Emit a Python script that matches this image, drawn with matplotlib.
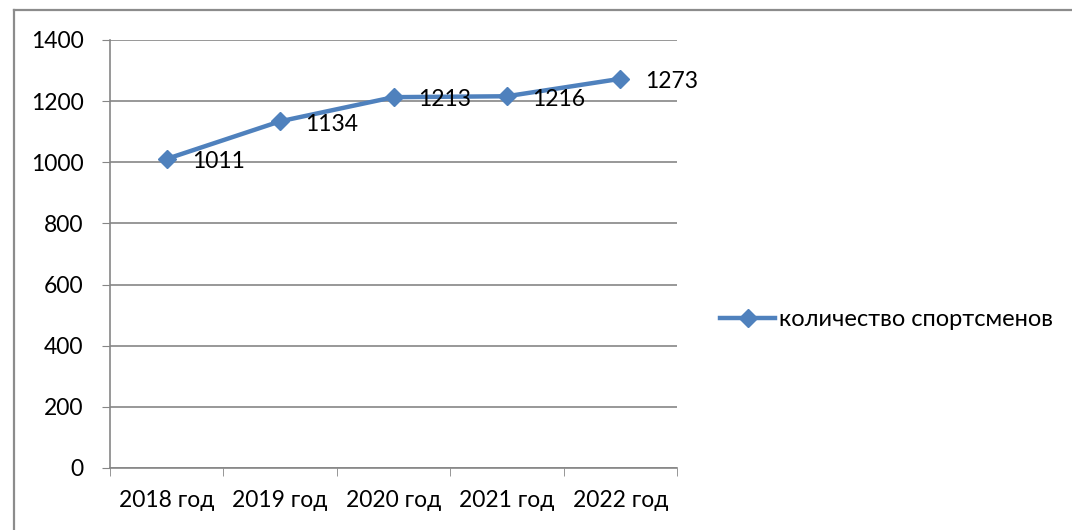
import matplotlib
matplotlib.use('Agg')
from matplotlib import pyplot as plt
from matplotlib.lines import Line2D

# Chart data
years = ['2018 год', '2019 год', '2020 год', '2021 год', '2022 год']
athletes = [1011, 1134, 1213, 1216, 1273]
series_name = 'количество спортсменов'
y_ticks = [0, 200, 400, 600, 800, 1000, 1200, 1400]

plt.rcParams['font.family'] = ['Lato', 'DejaVu Sans']
FS = 16.5

W, H = 1072, 530
fig = plt.figure(figsize=(W / 100, H / 100), dpi=100)
fig.patch.set_facecolor('white')

# Outer chart border (left and top visible)
fig.add_artist(Line2D([14 / W, 14 / W], [0, 1 - 10 / H], color='#8c8c8c', lw=1.6))
fig.add_artist(Line2D([14 / W, 1], [1 - 10 / H, 1 - 10 / H], color='#8c8c8c', lw=1.6))

ax = fig.add_axes([110 / W, 1 - 468 / H, (677 - 110) / W, (468 - 40) / H])

x = list(range(len(years)))
line_color = '#4F81BD'
ax.plot(x, athletes, color=line_color, lw=3.2, marker='D', markersize=9.5,
        label=series_name, zorder=3)

for xi, v in zip(x, athletes):
    ax.annotate(str(v), (xi, v), xytext=(18, -2), textcoords='offset points',
                ha='left', va='center', fontsize=FS, color='black', zorder=4)

ax.set_xlim(-0.5, len(years) - 0.5)
ax.set_ylim(0, 1400)
ax.set_yticks(y_ticks)
ax.tick_params(axis='y', labelsize=FS, length=6, color='#868686', pad=13)
ax.yaxis.grid(True, color='#868686', lw=1.2)
ax.set_axisbelow(True)

ax.set_xticks(x)
ax.set_xticklabels(years, fontsize=FS)
ax.set_xticks([i - 0.5 for i in range(len(years) + 1)], minor=True)
ax.tick_params(axis='x', which='major', length=0, pad=16)
ax.tick_params(axis='x', which='minor', length=6, color='#868686')

for side in ['top', 'right']:
    ax.spines[side].set_visible(False)
for side in ['left', 'bottom']:
    ax.spines[side].set_color('#868686')
    ax.spines[side].set_linewidth(1.2)

fig.legend(loc='center left', bbox_to_anchor=(708 / W, 1 - 320 / H), frameon=False,
           fontsize=17, handlelength=2.35, handletextpad=0.15, borderpad=0)

fig.savefig('out.png', dpi=100)
